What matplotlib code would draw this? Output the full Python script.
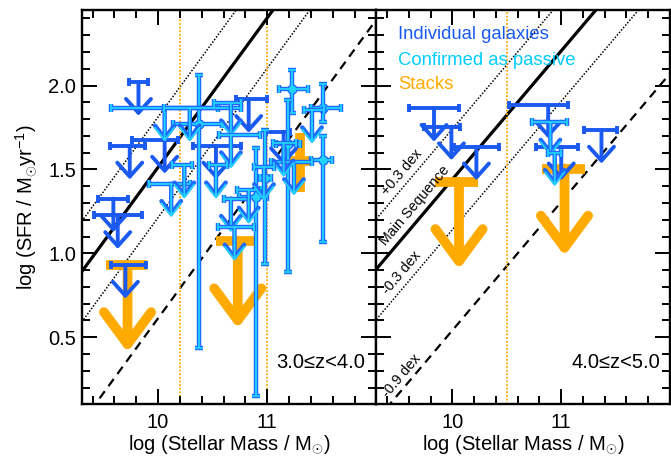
import numpy as np
import matplotlib.pyplot as plt

plt.rcParams['font.family'] = ['Liberation Sans', 'DejaVu Sans']
plt.rcParams['mathtext.fontset'] = 'custom'
plt.rcParams['mathtext.rm'] = 'Liberation Sans'
plt.rcParams['mathtext.it'] = 'Liberation Sans:italic'

AZUL = '#1A5AF0'     # galaxias individuales
BORDE = '#1F6BFF'    # borde de las confirmadas
CIAN = '#22D3FF'     # confirmadas como pasivas
NARANJA = '#FFAA00'  # stacks

# ---------------- Panel izquierdo: 3.0 <= z < 4.0 ----------------
# limites superiores de galaxias individuales (x, y, x min, x max)
ind_izq_x = [9.82, 9.74, 10.06, 9.59, 9.63, 9.70, 10.83, 10.53, 11.15]
ind_izq_y = [2.02, 1.64, 1.675, 1.326, 1.226, 0.93, 1.918, 1.64, 1.725]
ind_izq_xmin = [9.73, 9.56, 9.76, 9.45, 9.41, 9.57, 10.71, 10.32, 10.99]
ind_izq_xmax = [9.91, 9.88, 10.18, 9.725, 9.85, 9.89, 11.0, 10.76, 11.21]

# limites superiores de confirmadas como pasivas
conf_izq_x = [10.06, 10.29, 10.667, 10.667, 10.53, 10.667, 10.12, 10.24, 10.70, 11.41, 11.245, 11.15, 10.83, 10.97]
conf_izq_y = [1.865, 1.865, 1.895, 1.705, 1.525, 1.326, 1.415, 1.525, 1.155, 1.854, 1.545, 1.655, 1.375, 1.515]
conf_izq_xmin = [9.57, 10.05, 10.515, 10.56, 10.47, 10.60, 9.92, 10.13, 10.55, 11.34, 11.03, 11.05, 10.72, 10.88]
conf_izq_xmax = [10.55, 10.76, 10.758, 10.93, 10.63, 10.83, 10.29, 10.31, 10.88, 11.52, 11.41, 11.26, 10.94, 11.06]

# detecciones confirmadas como pasivas (con barras de error)
det_izq_x = [10.375, 11.23, 11.515, 11.515, 10.90, 11.19, 10.98]
det_izq_y = [1.772, 1.978, 1.865, 1.557, 1.335, 1.65, 1.45]
det_izq_xmin = [10.135, 11.11, 11.40, 11.40, 10.74, 11.08, 10.93]
det_izq_xmax = [10.59, 11.37, 11.68, 11.59, 11.0, 11.30, 11.03]
det_izq_ymin = [0.433, 1.835, 1.78, 1.066, 0.148, 0.886, 0.935]
det_izq_ymax = [2.064, 2.094, 2.01, 1.70, 1.625, 1.914, 1.735]

# stacks: limites superiores y una deteccion
stk_izq_x = [9.72, 10.73]
stk_izq_y = [0.93, 1.072]
stk_izq_xmin = [9.52, 10.53]
stk_izq_xmax = [9.90, 10.88]
stk_det_x = [11.30]
stk_det_y = [1.55]
stk_det_xmin = [11.21]
stk_det_xmax = [11.42]
stk_det_ymin = [1.365]
stk_det_ymax = [1.716]

# ---------------- Panel derecho: 4.0 <= z < 5.0 ----------------
ind_der_x = [9.83, 9.99, 10.22, 10.88, 11.0, 11.37]
ind_der_y = [1.865, 1.755, 1.635, 1.885, 1.635, 1.735]
ind_der_xmin = [9.60, 9.74, 10.01, 10.52, 10.77, 11.21]
ind_der_xmax = [10.06, 10.07, 10.43, 11.06, 11.15, 11.51]

conf_der_x = [10.90, 10.94]
conf_der_y = [1.78, 1.60]
conf_der_xmin = [10.73, 10.88]
conf_der_xmax = [11.05, 11.0]

stk_der_x = [10.06, 11.03]
stk_der_y = [1.425, 1.505]
stk_der_xmin = [9.84, 10.82]
stk_der_xmax = [10.23, 11.22]

# secuencia principal: (pendiente, valor en log M = 9.3)
sp_izq = (0.89, 0.89)
sp_der = (0.765, 0.906)
cortes_izq = [10.2, 11.0]   # lineas naranjas verticales
cortes_der = [10.5]

X0, X1 = 9.3, 12.0
Y0, Y1 = 0.1, 2.45


def limites_superiores(ax, x, y, xmin, xmax, capas, cap, largo, hw, hl, z):
  for i in range(len(x)):
    for k, (c, w) in enumerate(capas):
      ax.errorbar(x[i], y[i], xerr=[[x[i] - xmin[i]], [xmax[i] - x[i]]], fmt='none',
                  ecolor=c, elinewidth=w, capsize=cap, capthick=w, zorder=z + 0.1 * k)
      ax.annotate('', xy=(x[i], y[i] - largo), xytext=(x[i], y[i]),
                  arrowprops=dict(arrowstyle=f'->,head_length={hl},head_width={hw}',
                                  color=c, lw=w, shrinkA=0, shrinkB=0),
                  zorder=z + 0.1 * k)
    z += 0.2
  return z


def detecciones(ax, x, y, xmin, xmax, ymin, ymax, z):
  for i in range(len(x)):
    xe = [[x[i] - xmin[i]], [xmax[i] - x[i]]]
    ye = [[y[i] - ymin[i]], [ymax[i] - y[i]]]
    ax.errorbar(x[i], y[i], xerr=xe, yerr=ye, fmt='o', ms=6.5, mfc=BORDE, mec=BORDE,
                ecolor=BORDE, elinewidth=3.2, capsize=2.8, capthick=3.2, zorder=z)
    ax.errorbar(x[i], y[i], xerr=xe, yerr=ye, fmt='o', ms=4.5, mfc=CIAN, mec=CIAN,
                ecolor=CIAN, elinewidth=1.3, capsize=2.8, capthick=1.3, zorder=z + 0.1)
    z += 0.2
  return z


def lineas_base(ax, sp, cortes):
  m, b = sp
  xs = np.array([X0, X1])
  ys = b + m * (xs - X0)
  ax.plot(xs, ys, color='k', lw=2.3, zorder=1)
  ax.plot(xs, ys + 0.3, color='k', lw=1.1, ls=(0, (1, 1.1)), zorder=1)
  ax.plot(xs, ys - 0.3, color='k', lw=1.1, ls=(0, (1, 1.1)), zorder=1)
  ax.plot(xs, ys - 0.9, color='k', lw=1.6, ls=(0, (4, 2.8)), zorder=1)
  for c in cortes:
    ax.axvline(c, color=NARANJA, lw=1.3, ls=(0, (1, 1)), zorder=1)


def estilo(ax):
  ax.set_xlim(X0, X1)
  ax.set_ylim(Y0, Y1)
  ax.set_xticks([10, 11])
  ax.set_xticks(np.arange(9.4, 12.0, 0.2), minor=True)
  ax.set_yticks([0.5, 1.0, 1.5, 2.0])
  ax.set_yticks(np.arange(0.2, 2.45, 0.1), minor=True)
  ax.tick_params(which='both', direction='in', top=True, right=True, width=1.4, labelsize=14.5)
  ax.tick_params(which='major', length=10.5)
  ax.tick_params(which='minor', length=5.5)
  ax.tick_params(axis='x', pad=6.5)
  ax.tick_params(axis='y', pad=4)
  for s in ax.spines.values():
    s.set_linewidth(1.7)
  ax.set_xlabel(r'log (Stellar Mass / M$_{\odot}$)', fontsize=14.5, labelpad=1)


fig = plt.figure(figsize=(6.71, 4.61), dpi=100)
ax1 = fig.add_axes([0.1218, 0.123, 0.4391, 0.8553])
ax2 = fig.add_axes([0.5609, 0.123, 0.4376, 0.8553])

capas_ind = [(AZUL, 2.8)]
capas_conf = [(BORDE, 3.2), (CIAN, 1.3)]
capas_stk = [(NARANJA, 7)]

# panel izquierdo
lineas_base(ax1, sp_izq, cortes_izq)
ax1.errorbar(stk_det_x, stk_det_y,
             xerr=[np.subtract(stk_det_x, stk_det_xmin), np.subtract(stk_det_xmax, stk_det_x)],
             yerr=[np.subtract(stk_det_y, stk_det_ymin), np.subtract(stk_det_ymax, stk_det_y)],
             fmt='none', ecolor=NARANJA, elinewidth=7, capsize=0, zorder=2)
z = limites_superiores(ax1, stk_izq_x, stk_izq_y, stk_izq_xmin, stk_izq_xmax, capas_stk, 0, 0.52, 1.7, 2.3, 2)
z = limites_superiores(ax1, ind_izq_x, ind_izq_y, ind_izq_xmin, ind_izq_xmax, capas_ind, 2.7, 0.2, 0.9, 1.0, 4)
z = detecciones(ax1, det_izq_x, det_izq_y, det_izq_xmin, det_izq_xmax, det_izq_ymin, det_izq_ymax, z)
z = limites_superiores(ax1, conf_izq_x, conf_izq_y, conf_izq_xmin, conf_izq_xmax, capas_conf, 2.8, 0.2, 0.7, 0.9, z)
estilo(ax1)
ax1.set_ylabel(r'log (SFR / M$_{\odot}$yr$^{-1}$)', fontsize=14.5, labelpad=7)
ax1.text(0.963, 0.105, '3.0≤z<4.0', transform=ax1.transAxes, ha='right', va='center', fontsize=14.5)

# panel derecho
lineas_base(ax2, sp_der, cortes_der)
z = limites_superiores(ax2, stk_der_x, stk_der_y, stk_der_xmin, stk_der_xmax, capas_stk, 0, 0.52, 1.7, 2.3, 2)
z = limites_superiores(ax2, ind_der_x, ind_der_y, ind_der_xmin, ind_der_xmax, capas_ind, 2.7, 0.2, 0.9, 1.0, 4)
z = limites_superiores(ax2, conf_der_x, conf_der_y, conf_der_xmin, conf_der_xmax, capas_conf, 2.8, 0.2, 0.7, 0.9, z)
estilo(ax2)
ax2.tick_params(labelleft=False)
ax2.text(0.968, 0.105, '4.0≤z<5.0', transform=ax2.transAxes, ha='right', va='center', fontsize=14.5)

# leyenda como texto coloreado
ax2.text(0.073, 0.938, 'Individual galaxies', transform=ax2.transAxes, va='center', fontsize=13.3, color=AZUL)
ax2.text(0.073, 0.873, 'Confirmed as passive', transform=ax2.transAxes, va='center', fontsize=13.3, color='#00CCFF')
ax2.text(0.073, 0.81, 'Stacks', transform=ax2.transAxes, va='center', fontsize=13.3, color=NARANJA)

# etiquetas inclinadas de las lineas
angulo = np.degrees(np.arctan(sp_der[0]))
angulo = ax2.transData.transform_angles(np.array([angulo]), np.array([[9.6, 1.0]]))[0]
etiquetas = ['+0.3 dex', 'Main Sequence', '-0.3 dex', '-0.9 dex']
etq_x = [9.533, 9.655, 9.528, 9.528]
etq_y = [1.485, 1.285, 0.885, 0.27]
for t, xx, yy in zip(etiquetas, etq_x, etq_y):
  ax2.text(xx, yy, t, rotation=angulo, rotation_mode='anchor', ha='center', va='center', fontsize=10.3)

fig.savefig('out.png', dpi=100)
